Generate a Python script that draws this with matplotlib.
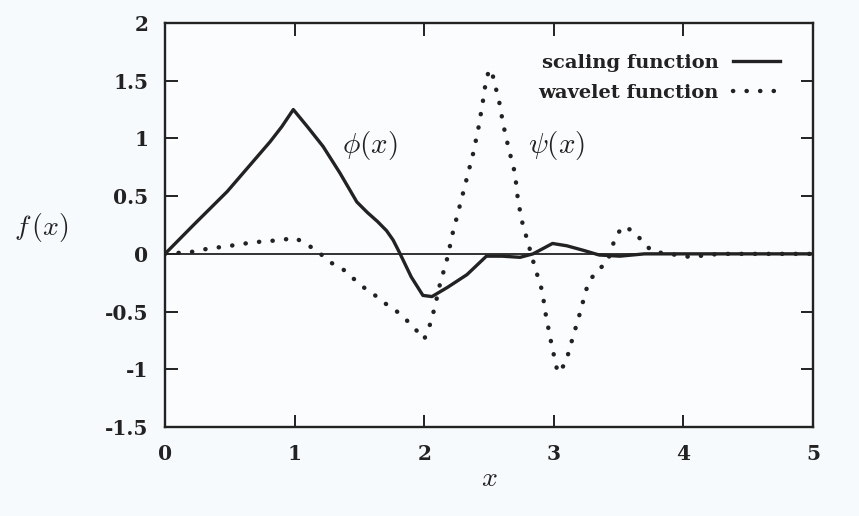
import matplotlib
matplotlib.use("Agg")
import matplotlib.pyplot as plt

# ---- data ----
phi_x = [0.0, 0.22, 0.48, 0.81, 0.90, 0.99, 1.10, 1.22, 1.35, 1.48, 1.56, 1.64, 1.71,
         1.76, 1.81, 1.90, 1.99, 2.06, 2.18, 2.33, 2.48, 2.60, 2.74, 2.84, 2.99, 3.10,
         3.23, 3.35, 3.51, 3.70, 5.0]
phi_y = [0.0, 0.25, 0.54, 0.97, 1.10, 1.25, 1.10, 0.93, 0.70, 0.45, 0.36, 0.28, 0.20,
         0.12, 0.01, -0.20, -0.36, -0.37, -0.29, -0.18, -0.02, -0.02, -0.03, 0.0, 0.09,
         0.07, 0.03, -0.01, -0.02, 0.0, 0.0]

psi_x = [0.0, 0.12, 0.23, 0.35, 0.45, 0.56, 0.68, 0.79, 0.90, 1.00, 1.10, 1.20,
         1.27, 1.37, 1.44, 1.52, 1.61, 1.70, 1.79, 1.86, 1.93, 2.00, 2.04, 2.08,
         2.12, 2.18, 2.22, 2.28, 2.33, 2.38, 2.42, 2.45, 2.47, 2.50, 2.53, 2.58,
         2.61, 2.65, 2.70, 2.72, 2.75, 2.80, 2.85, 2.91, 2.94, 2.98, 3.03, 3.09,
         3.14, 3.20, 3.25, 3.29, 3.36, 3.41, 3.48, 3.54, 3.62, 3.69, 3.76, 3.95,
         4.07, 4.17, 4.30, 5.0]
psi_y = [0.0, 0.01, 0.02, 0.05, 0.06, 0.08, 0.10, 0.11, 0.12, 0.14, 0.08, 0.0,
         -0.07, -0.13, -0.20, -0.28, -0.35, -0.43, -0.50, -0.57, -0.65, -0.74, -0.63, -0.47,
         -0.27, -0.03, 0.18, 0.44, 0.66, 0.88, 1.10, 1.30, 1.45, 1.60, 1.54, 1.31,
         1.12, 0.92, 0.70, 0.50, 0.30, 0.10, -0.10, -0.32, -0.54, -0.77, -1.03, -0.95,
         -0.75, -0.52, -0.31, -0.21, -0.12, -0.08, 0.16, 0.24, 0.19, 0.10, 0.02, -0.01,
         -0.03, -0.01, 0.0, 0.0]

x_ticks = [0, 1, 2, 3, 4, 5]
x_tick_labels = ["0", "1", "2", "3", "4", "5"]
y_ticks = [-1.5, -1, -0.5, 0, 0.5, 1, 1.5, 2]
y_tick_labels = ["-1.5", "-1", "-0.5", "0", "0.5", "1", "1.5", "2"]

series_labels = ["scaling function", "wavelet function"]

# ---- style ----
plt.rcParams["mathtext.fontset"] = "cm"
plt.rcParams["axes.unicode_minus"] = False
ink = "#222222"
bg = "#f7fafc"
tick_font = {"family": "DejaVu Serif", "weight": "bold", "size": 14.5}

fig = plt.figure(figsize=(8.59, 5.16), dpi=100, facecolor=bg)
ax = fig.add_axes([165 / 859, 89 / 516, 648 / 859, 404 / 516])
ax.set_facecolor("#fbfcfd")

ax.axhline(0, color=ink, lw=1.3, zorder=1)
ax.plot(phi_x, phi_y, color=ink, lw=2.4, label=series_labels[0], zorder=3,
        solid_joinstyle="round")
ax.plot(psi_x, psi_y, color=ink, lw=3.2, linestyle=(0, (0.05, 3.0)),
        dash_capstyle="round", label=series_labels[1], zorder=3)

ax.set_xlim(0, 5)
ax.set_ylim(-1.5, 2)
ax.set_xticks(x_ticks)
ax.set_xticklabels(x_tick_labels, fontdict=tick_font, color=ink)
ax.set_yticks(y_ticks)
ax.set_yticklabels(y_tick_labels, fontdict=tick_font, color=ink)
ax.tick_params(axis="both", direction="in", length=9, width=1.4, color=ink,
               top=True, right=True, pad=12)
for s in ax.spines.values():
    s.set_linewidth(1.7)
    s.set_color(ink)

ax.set_xlabel(r"$x$", fontsize=20, color=ink, labelpad=0)
fig.text(41 / 859, 1 - 228 / 516, r"$f\,(x)$", fontsize=20, color=ink,
         ha="center", va="center")
ax.text(1.58, 0.94, r"$\phi(x)$", fontsize=21, color=ink, ha="center", va="center")
ax.text(3.02, 0.94, r"$\psi(x)$", fontsize=21, color=ink, ha="center", va="center")

leg = ax.legend(loc="upper right", bbox_to_anchor=((780 - 165) / 648, (427 - 54) / 404),
                frameon=False, markerfirst=False, handlelength=2.4, handletextpad=0.75,
                labelspacing=0.62, borderpad=0, borderaxespad=0,
                prop={"family": "DejaVu Serif", "weight": "bold", "size": 14})
for t in leg.get_texts():
    t.set_color(ink)

fig.savefig("out.png", dpi=100, facecolor=bg)
